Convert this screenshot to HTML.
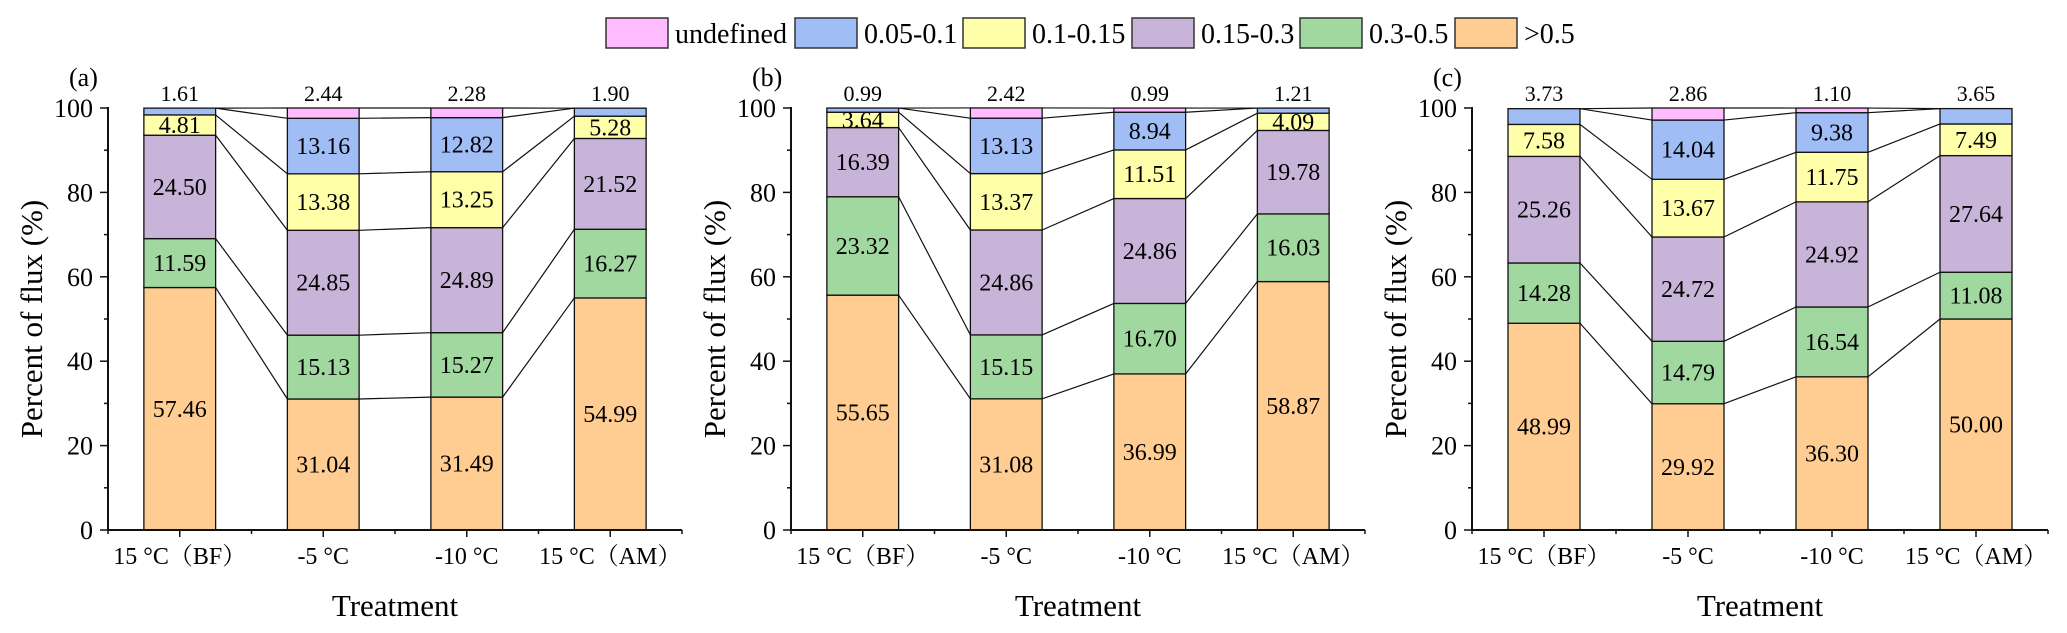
<!DOCTYPE html>
<html><head><meta charset="utf-8"><style>
html,body{margin:0;padding:0;background:#fff;}
svg, svg text{font-family:"Liberation Serif","Noto Serif CJK SC",serif !important;}
svg{display:block;}
</style></head><body>
<svg id="chart" width="2067" height="633" viewBox="0 0 2067 633" font-family="Liberation Serif, Noto Serif CJK SC, serif"></svg>
<script>
const categories = ["15 °C（BF）", "-5 °C", "-10 °C", "15 °C（AM）"];
const seriesNames = ["undefined", "0.05-0.1", "0.1-0.15", "0.15-0.3", "0.3-0.5", ">0.5"];
const yTicks = [0, 20, 40, 60, 80, 100];
const panelLabels = ["(a)", "(b)", "(c)"];
const panelA_gt05 = [57.46, 31.04, 31.49, 54.99];
const panelA_03_05 = [11.59, 15.13, 15.27, 16.27];
const panelA_015_03 = [24.50, 24.85, 24.89, 21.52];
const panelA_01_015 = [4.81, 13.38, 13.25, 5.28];
const panelA_005_01 = [1.61, 13.16, 12.82, 1.90];
const panelA_undef = [0, 2.44, 2.28, 0];
const panelB_gt05 = [55.65, 31.08, 36.99, 58.87];
const panelB_03_05 = [23.32, 15.15, 16.70, 16.03];
const panelB_015_03 = [16.39, 24.86, 24.86, 19.78];
const panelB_01_015 = [3.64, 13.37, 11.51, 4.09];
const panelB_005_01 = [0.99, 13.13, 8.94, 1.21];
const panelB_undef = [0, 2.42, 0.99, 0];
const panelC_gt05 = [48.99, 29.92, 36.30, 50.00];
const panelC_03_05 = [14.28, 14.79, 16.54, 11.08];
const panelC_015_03 = [25.26, 24.72, 24.92, 27.64];
const panelC_01_015 = [7.58, 13.67, 11.75, 7.49];
const panelC_005_01 = [3.73, 14.04, 9.38, 3.65];
const panelC_undef = [0, 2.86, 1.10, 0];

const panels = [
  [panelA_gt05, panelA_03_05, panelA_015_03, panelA_01_015, panelA_005_01, panelA_undef],
  [panelB_gt05, panelB_03_05, panelB_015_03, panelB_01_015, panelB_005_01, panelB_undef],
  [panelC_gt05, panelC_03_05, panelC_015_03, panelC_01_015, panelC_005_01, panelC_undef]
];
const colors = ["#ffcd92", "#a0d8a0", "#c8b4d8", "#ffffaa", "#a0bef5", "#ffbbff"];
const legendColors = ["#ffbbff", "#a0bef5", "#ffffaa", "#c8b4d8", "#a0d8a0", "#ffcd92"];

const NS = "http://www.w3.org/2000/svg";
const svg = document.getElementById("chart");
const FF = '"Liberation Serif", "Noto Serif CJK SC", serif';
function mk(tag, attrs, parent) {
  const e = document.createElementNS(NS, tag);
  for (const k in attrs) e.setAttribute(k, attrs[k]);
  if (tag === "text") e.style.fontFamily = FF;
  (parent || svg).appendChild(e);
  return e;
}
const Y0 = 530, Y100 = 108;
function yScale(v) { return Y0 - (v / 100) * (Y0 - Y100); }
const axesX = [[108, 682], [791, 1365], [1472, 2048]];

const legX = [606, 795, 963, 1132, 1300, 1455];
seriesNames.forEach((n, i) => {
  const g = mk("g", {});
  
  
  mk("rect", {x: legX[i], y: 18, width: 62, height: 30, fill: legendColors[i], stroke: "#333", "stroke-width": 1.5}, g);
  const t = mk("text", {x: legX[i] + 69, y: 43, "font-size": 28}, g);
  t.textContent = n;
});

panels.forEach((series, p) => {
  const [ax0, ax1] = axesX[p];
  const step = (ax1 - ax0) / categories.length;
  const bw = step * 0.5;
  const xc = i => ax0 + step * (i + 0.5);
  const g = mk("g", {});
  
  

  const cum = categories.map((c, i) => {
    let s = 0; const arr = [0];
    series.forEach(ser => { s += ser[i]; arr.push(s); });
    return arr;
  });
  categories.forEach((c, i) => {
    series.forEach((ser, k) => {
      if (ser[i] <= 0) return;
      const y1 = yScale(cum[i][k + 1]), y0 = yScale(cum[i][k]);
      const r = mk("rect", {x: xc(i) - bw / 2, y: y1, width: bw, height: y0 - y1, fill: colors[k], stroke: "#111", "stroke-width": 1.3}, g);
      
      
    });
  });
  for (let i = 0; i < categories.length - 1; i++) {
    for (let k = 1; k <= series.length; k++) {
      const l = mk("line", {x1: xc(i) + bw / 2, y1: yScale(cum[i][k]), x2: xc(i + 1) - bw / 2, y2: yScale(cum[i + 1][k]), stroke: "#111", "stroke-width": 1.2}, g);
      
      
    }
  }
  categories.forEach((c, i) => {
    let topK = series.length - 1;
    while (topK > 0 && series[topK][i] <= 0) topK--;
    series.forEach((ser, k) => {
      if (ser[i] <= 0) return;
      let t;
      if (k === topK) {
        t = mk("text", {x: xc(i), y: 101, "font-size": 22, "text-anchor": "middle"}, g);
        
      } else {
        const ym = (yScale(cum[i][k]) + yScale(cum[i][k + 1])) / 2;
        t = mk("text", {x: xc(i), y: ym + 8, "font-size": 24, "text-anchor": "middle"}, g);
        
      }
      
      t.textContent = ser[i].toFixed(2);
    });
  });
  mk("line", {x1: ax0, y1: Y100 - 1, x2: ax0, y2: Y0 + 1, stroke: "#111", "stroke-width": 2}, g);
  mk("line", {x1: ax0 - 1, y1: Y0, x2: ax1, y2: Y0, stroke: "#111", "stroke-width": 2}, g);
  for (let v = 0; v <= 100; v += 10) {
    const major = v % 20 === 0;
    mk("line", {x1: ax0, y1: yScale(v), x2: ax0 - (major ? 8 : 4), y2: yScale(v), stroke: "#111", "stroke-width": 1.5}, g);
  }
  yTicks.forEach(v => {
    const t = mk("text", {x: ax0 - 15, y: yScale(v) + 9, "font-size": 26, "text-anchor": "end"}, g);
    
    
    t.textContent = v;
  });
  for (let i = 0; i <= categories.length; i++) {
    mk("line", {x1: ax0 + step * i, y1: Y0, x2: ax0 + step * i, y2: Y0 + 4, stroke: "#111", "stroke-width": 1.5}, g);
  }
  categories.forEach((c, i) => {
    mk("line", {x1: xc(i), y1: Y0, x2: xc(i), y2: Y0 + 7, stroke: "#111", "stroke-width": 1.5}, g);
    const t = mk("text", {x: xc(i), y: 564, "font-size": 24, "text-anchor": "middle"}, g);
    
    
    t.textContent = c;
  });
  const xt = mk("text", {x: (ax0 + ax1) / 2, y: 616, "font-size": 31, "text-anchor": "middle"}, g);
  
  
  xt.textContent = "Treatment";
  const yx = ax0 - 66, yy = (Y0 + Y100) / 2;
  const yt = mk("text", {x: yx, y: yy, "font-size": 31, "text-anchor": "middle", transform: `rotate(-90 ${yx} ${yy})`}, g);
  
  
  yt.textContent = "Percent of flux (%)";
  const pl = mk("text", {x: ax0 - 39, y: 86, "font-size": 26}, g);
  
  
  pl.textContent = panelLabels[p];
});
</script>
</body></html>
